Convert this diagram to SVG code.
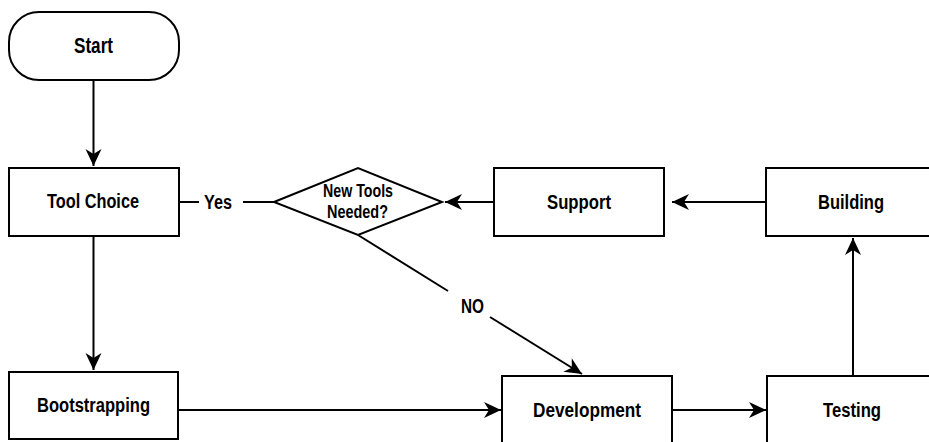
<svg xmlns="http://www.w3.org/2000/svg" width="929" height="442" viewBox="0 0 929 442">
<style>
.shape{fill:#fff;stroke:#000;stroke-width:2}
.lbl{font-family:"Liberation Sans",Arial,sans-serif;font-weight:bold;font-size:20px;fill:#000;text-anchor:middle}
.sm{font-size:18px}
.lg{font-size:22px}
.edge{fill:none;stroke:#000;stroke-width:2}
</style>
<defs>
<marker id="arr" viewBox="-18 -9 19 18" refX="0" refY="0" markerWidth="19" markerHeight="18" markerUnits="userSpaceOnUse" orient="auto">
<path d="M0,0 L-17,-8 L-12,0 L-17,8 Z" fill="#000"/>
</marker>
</defs>
<rect width="929" height="442" fill="#fff"/>
<g id="connectors">
<line class="edge" x1="93.5" y1="80" x2="93.5" y2="166" marker-end="url(#arr)"/>
<line class="edge" x1="93.5" y1="236" x2="93.5" y2="370" marker-end="url(#arr)"/>
<line class="edge" x1="179" y1="202" x2="199" y2="202"/>
<line class="edge" x1="243" y1="202" x2="274" y2="202"/>
<line class="edge" x1="494" y1="202" x2="445" y2="202" marker-end="url(#arr)"/>
<line class="edge" x1="766" y1="202" x2="672" y2="202" marker-end="url(#arr)"/>
<line class="edge" x1="853" y1="376" x2="853" y2="238" marker-end="url(#arr)"/>
<line class="edge" x1="178" y1="410" x2="501" y2="410" marker-end="url(#arr)"/>
<line class="edge" x1="672" y1="410" x2="766" y2="410" marker-end="url(#arr)"/>
<line class="edge" x1="358" y1="235" x2="448" y2="291"/>
<line class="edge" x1="490" y1="317" x2="582" y2="374" marker-end="url(#arr)"/>
<text class="lbl" x="218" y="209" textLength="28" lengthAdjust="spacingAndGlyphs">Yes</text>
<text class="lbl" x="472.5" y="313" textLength="23" lengthAdjust="spacingAndGlyphs">NO</text>
</g>
<g id="start">
<rect class="shape" x="9" y="12" width="170" height="68" rx="30" ry="30"/>
<text class="lbl lg" x="93.5" y="53" textLength="39" lengthAdjust="spacingAndGlyphs">Start</text>
</g>
<g id="toolchoice">
<rect class="shape" x="9" y="168" width="170" height="68"/>
<text class="lbl" x="93" y="208" textLength="92" lengthAdjust="spacingAndGlyphs">Tool Choice</text>
</g>
<g id="decision">
<polygon class="shape" points="274,202 358,168 442,202 358,235"/>
<text class="lbl sm" x="358" y="197" textLength="70" lengthAdjust="spacingAndGlyphs">New Tools</text>
<text class="lbl sm" x="357.5" y="218" textLength="61" lengthAdjust="spacingAndGlyphs">Needed?</text>
</g>
<g id="support">
<rect class="shape" x="494" y="168" width="170" height="68"/>
<text class="lbl" x="579" y="209" textLength="64" lengthAdjust="spacingAndGlyphs">Support</text>
</g>
<g id="building">
<rect class="shape" x="766" y="168" width="170" height="68"/>
<text class="lbl" x="851" y="209" textLength="66" lengthAdjust="spacingAndGlyphs">Building</text>
</g>
<g id="bootstrapping">
<rect class="shape" x="9" y="372" width="169" height="67"/>
<text class="lbl" x="93.5" y="412" textLength="113" lengthAdjust="spacingAndGlyphs">Bootstrapping</text>
</g>
<g id="development">
<rect class="shape" x="502" y="376" width="170" height="68"/>
<text class="lbl" x="587" y="417" textLength="108" lengthAdjust="spacingAndGlyphs">Development</text>
</g>
<g id="testing">
<rect class="shape" x="767" y="376" width="170" height="68"/>
<text class="lbl" x="852" y="417" textLength="58" lengthAdjust="spacingAndGlyphs">Testing</text>
</g>
</svg>
